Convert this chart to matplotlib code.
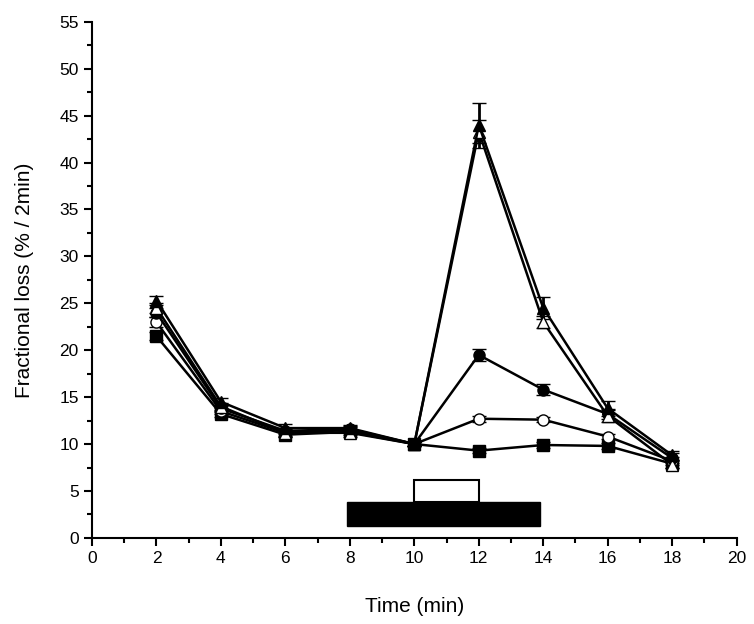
import matplotlib.pyplot as plt
from matplotlib.patches import Rectangle
from matplotlib.ticker import MultipleLocator

plt.rcParams['font.family'] = ['Liberation Sans', 'DejaVu Sans']

time = [2, 4, 6, 8, 10, 12, 14, 16, 18]

# filled squares
sq = [21.5, 13.2, 11.0, 11.3, 10.0, 9.3, 9.9, 9.8, 7.9]
sq_err = [0.4, 0.3, 0.3, 0.3, 0.2, 0.3, 0.3, 0.3, 0.4]
# open circles
oc = [23.0, 13.5, 11.2, 11.5, 10.0, 12.7, 12.6, 10.8, 8.2]
oc_err = [0.5, 0.3, 0.3, 0.3, 0.2, 0.3, 0.3, 0.3, 0.4]
# filled circles
fc = [24.0, 13.8, 11.4, 11.6, 10.0, 19.5, 15.8, 13.2, 8.5]
fc_err = [0.5, 0.4, 0.3, 0.3, 0.2, 0.6, 0.6, 0.5, 0.5]
# filled triangles
ft = [25.3, 14.5, 11.7, 11.7, 10.0, 44.0, 24.5, 13.8, 8.8]
ft_err = [0.5, 0.4, 0.4, 0.3, 0.2, 2.4, 1.2, 0.8, 0.5]
# open triangles
ot = [24.5, 14.0, 11.2, 11.2, 10.0, 43.3, 23.0, 13.0, 7.8]
ot_err = [0.5, 0.4, 0.4, 0.4, 0.2, 1.2, 0.6, 0.6, 0.4]

# stimulus bars (start, end, low, high)
black_bar = (7.9, 13.9, 1.3, 3.8)
open_bar = (10, 12, 3.8, 6.2)

fig = plt.figure(figsize=(7.54, 6.24), dpi=100)
ax = fig.add_axes([0.122, 0.138, 0.855, 0.827])

series = [
    (sq, sq_err, 's', 'black'),
    (oc, oc_err, 'o', 'white'),
    (fc, fc_err, 'o', 'black'),
    (ot, ot_err, '^', 'white'),
    (ft, ft_err, '^', 'black'),
]
for y, e, m, fcol in series:
    ax.errorbar(time, y, yerr=e, color='black', lw=1.8, marker=m, ms=8,
                mfc=fcol, mec='black', mew=1.0, capsize=5, capthick=2, elinewidth=2)

x0, x1, y0, y1 = black_bar
ax.add_patch(Rectangle((x0, y0), x1 - x0, y1 - y0, fc='black', ec='black'))
x0, x1, y0, y1 = open_bar
ax.add_patch(Rectangle((x0, y0), x1 - x0, y1 - y0, fc='white', ec='black', lw=1.5))

ax.set_xlim(0, 20)
ax.set_ylim(0, 55)
ax.xaxis.set_major_locator(MultipleLocator(2))
ax.xaxis.set_minor_locator(MultipleLocator(1))
ax.yaxis.set_major_locator(MultipleLocator(5))
ax.yaxis.set_minor_locator(MultipleLocator(2.5))
ax.tick_params(which='major', direction='out', length=6, width=1.5, labelsize=12.5)
ax.tick_params(which='minor', direction='out', length=3.5, width=1.5)
for s in ['top', 'right']:
    ax.spines[s].set_visible(False)
for s in ['left', 'bottom']:
    ax.spines[s].set_linewidth(1.5)

ax.set_xlabel('Time (min)', fontsize=15, labelpad=22)
ax.set_ylabel('Fractional loss (% / 2min)', fontsize=15, labelpad=18)

fig.savefig('out.png', dpi=100)
